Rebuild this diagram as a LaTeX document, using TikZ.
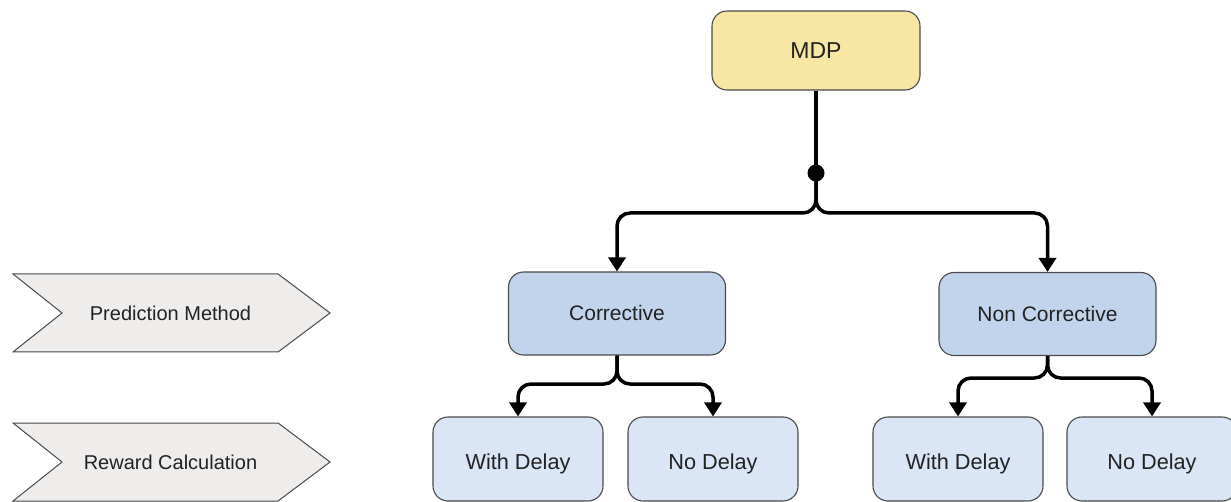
\documentclass[tikz,border=0pt]{standalone}
\usepackage{fontspec}
\setmainfont{Liberation Sans}
\usetikzlibrary{arrows.meta}

\definecolor{mdpfill}{HTML}{F8E7A4}
\definecolor{midfill}{HTML}{C1D4EC}
\definecolor{leaffill}{HTML}{DAE5F6}
\definecolor{stagefill}{HTML}{EFEDEC}
\definecolor{edgegrey}{HTML}{4A4A4A}
\definecolor{inkgrey}{HTML}{222222}

\begin{document}
\begin{tikzpicture}[x=1pt,y=-1pt,
  box/.style={draw=edgegrey, line width=1.1pt, rounded corners=15pt, inner sep=0pt, text=inkgrey, align=center, text depth=0pt},
  rootbox/.style={box, fill=mdpfill, minimum width=208pt, minimum height=79pt, font=\fontsize{23}{27}\selectfont, text height=16.5pt},
  midbox/.style={box, fill=midfill, minimum width=217pt, minimum height=83pt, font=\fontsize{21}{25}\selectfont, text height=15pt},
  leafbox/.style={box, fill=leaffill, minimum width=170pt, minimum height=84pt, font=\fontsize{21.7}{26}\selectfont, text height=21.5pt},
  stage/.style={draw=edgegrey, line width=1pt, fill=stagefill, line join=miter},
  stagetext/.style={text=inkgrey, font=\fontsize{20}{24}\selectfont, inner sep=0pt, text height=14.3pt, text depth=0pt},
  trunk/.style={line width=3.5pt},
  link/.style={line width=3.5pt, rounded corners=13pt, -{Triangle[width=17pt,length=14pt]}},
]
\useasboundingbox (0,0) rectangle (1231,502);
\clip (0,0) rectangle (1231,502);

% stage labels on the left
\draw[stage] (13,274) -- (278,274) -- (330,313) -- (278,352) -- (13,352) -- (62,313) -- cycle;
\node[stagetext] (pred) at (170.5,313) {Prediction Method};
\draw[stage] (13,423) -- (278,423) -- (330,462) -- (278,501) -- (13,501) -- (62,462) -- cycle;
\node[stagetext] (reward) at (170.5,462) {Reward Calculation};

% tree nodes
\node[rootbox] (mdp) at (816,50.5) {MDP};
\node[midbox] (cor) at (617,313.5) {Corrective};
\node[midbox] (ncor) at (1047.5,314) {Non Corrective};
\node[leafbox] (cwd) at (518,459) {With Delay};
\node[leafbox] (cnd) at (713,459) {No Delay};
\node[leafbox] (nwd) at (958,459) {With Delay};
\node[leafbox] (nnd) at (1152,459) {No Delay};

% junction dot and split points
\node[circle, fill=black, inner sep=0pt, minimum size=17pt] (hub) at (816,173) {};
\coordinate (split) at (816,213);
\coordinate (csplit) at (617,384);
\coordinate (nsplit) at (1047.5,378);

% connectors
\draw[trunk] (mdp.south) -- (hub.center);
\draw[link] (hub.center) -- (split) -| (cor.north);
\draw[link] (hub.center) -- (split) -| (ncor.north);
\draw[link] (cor.south) -- (csplit) -| (cwd.north);
\draw[link] (cor.south) -- (csplit) -| (cnd.north);
\draw[link] (ncor.south) -- (nsplit) -| (nwd.north);
\draw[link] (ncor.south) -- (nsplit) -| (nnd.north);
\end{tikzpicture}
\end{document}
